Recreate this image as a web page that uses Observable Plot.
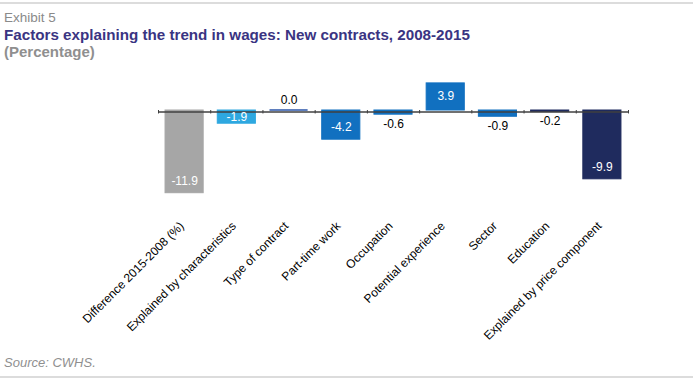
<!DOCTYPE html>
<html>
<head>
<meta charset="utf-8">
<script src="https://cdn.jsdelivr.net/npm/d3@7"></script>
<script src="https://cdn.jsdelivr.net/npm/@observablehq/plot@0.6"></script>
<style>
  html, body { margin: 0; padding: 0; background: #fff; }
  body { width: 696px; height: 380px; position: relative; overflow: hidden; font-family: "Liberation Sans", Arial, sans-serif; }
  .rule { position: absolute; left: 0; width: 693px; height: 2px; background: #dcdcdc; }
  .t { position: absolute; left: 4px; white-space: nowrap; }
  #exhibit { top: 11px; font-size: 13.5px; line-height: 13.5px; color: #8a8a8a; }
  #title { top: 27px; font-size: 15.2px; line-height: 15.2px; font-weight: bold; color: #3a3482; }
  #subtitle { top: 44px; font-size: 15px; line-height: 15px; font-weight: bold; color: #8f8f8f; }
  #source { top: 356px; font-size: 13px; line-height: 13px; font-style: italic; color: #8f8f8f; }
  #chart { position: absolute; left: 0; top: 60px; }
</style>
</head>
<body>
<div class="rule" style="top:2px"></div>
<div class="t" id="exhibit">Exhibit 5</div>
<div class="t" id="title">Factors explaining the trend in wages: New contracts, 2008-2015</div>
<div class="t" id="subtitle">(Percentage)</div>
<div id="chart"></div>
<div class="t" id="source">Source: CWHS.</div>
<div class="rule" style="top:376px"></div>
<script>
const categories = [
  "Difference 2015-2008 (%)",
  "Explained by characteristics",
  "Type of contract",
  "Part-time work",
  "Occupation",
  "Potential experience",
  "Sector",
  "Education",
  "Explained by price component"
];
const values = [-11.9, -1.9, 0.0, -4.2, -0.6, 3.9, -0.9, -0.2, -9.9];
const barColors = ["#a6a6a6", "#2ea8e0", "#2a55a8", "#1170c0", "#1170c0", "#1170c0", "#1170c0", "#1f2b5e", "#1f2b5e"];

const rows = categories.map((c, i) => ({i, cat: c, v: values[i], color: barColors[i]}));
const boundaries = d3.range(categories.length + 1).map(k => k - 0.5);

const inside = d => Math.abs(d.v) >= 1.5;
const labelY = d => inside(d)
  ? d.v - Math.sign(d.v) * Math.min(1.8, Math.abs(d.v) / 2)
  : (d.v < 0 ? d.v - 1.3 : d.v + 1.55);

const chart = Plot.plot({
  width: 696,
  height: 300,
  marginLeft: 158,
  marginRight: 68,
  marginTop: 15.25,
  marginBottom: 145.75,
  x: {domain: [-0.5, categories.length - 0.5], axis: null},
  y: {domain: [-15, 5], axis: null},
  color: {type: "identity"},
  style: {fontFamily: "Liberation Sans, Arial, sans-serif", background: "transparent"},
  marks: [
    Plot.rectY(rows, {
      x1: d => d.i - 0.365, x2: d => d.i + 0.365,
      y1: 0, y2: "v",
      fill: "color", stroke: "color", strokeWidth: 1
    }),
    // zero-valued bars drawn as a thin line
    Plot.ruleY(rows.filter(d => d.v === 0), {
      x1: d => d.i - 0.365, x2: d => d.i + 0.365, y: "v",
      stroke: "color", strokeWidth: 1.5, dy: -0.5
    }),
    Plot.ruleY([0], {stroke: "#404040", strokeWidth: 1.5, dy: 1.5}),
    Plot.ruleX(boundaries, {x: d => d, y1: 0, y2: -0.5, stroke: "#404040", strokeWidth: 1}),
    Plot.text(rows, {
      x: "i", y: labelY, text: d => d.v.toFixed(1),
      fill: d => inside(d) ? "#ffffff" : "#000000",
      fontSize: 12
    }),
    Plot.text(rows, {
      x: "i", frameAnchor: "bottom", text: "cat",
      rotate: -45, textAnchor: "end", dx: 0, dy: 12,
      fontSize: 12, fill: "#000000"
    })
  ]
});
document.getElementById("chart").appendChild(chart);
</script>
</body>
</html>
